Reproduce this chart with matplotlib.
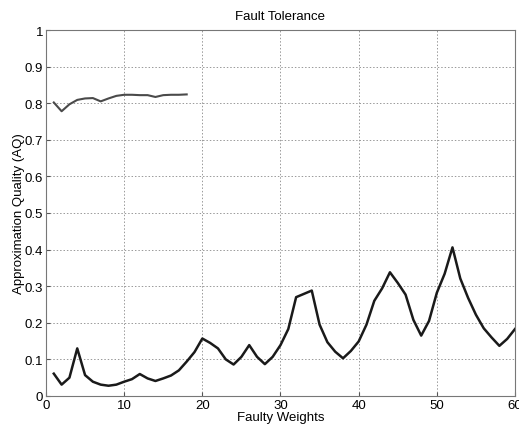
import matplotlib.pyplot as plt

plt.rcParams['font.family'] = ['Liberation Sans', 'DejaVu Sans']

# faulty weights count
faults = list(range(1, 61))
aq_low = [0.061, 0.031, 0.050, 0.130, 0.057, 0.039, 0.031, 0.028, 0.031, 0.039,
          0.046, 0.060, 0.048, 0.041, 0.048, 0.056, 0.070, 0.094, 0.120, 0.157,
          0.145, 0.130, 0.100, 0.086, 0.107, 0.139, 0.107, 0.087, 0.107, 0.139,
          0.183, 0.270, 0.279, 0.288, 0.195, 0.147, 0.121, 0.103, 0.123, 0.149,
          0.195, 0.260, 0.294, 0.338, 0.309, 0.277, 0.208, 0.165, 0.205, 0.282,
          0.334, 0.406, 0.321, 0.268, 0.222, 0.185, 0.160, 0.137, 0.156, 0.183]

faults_hi = list(range(1, 19))
aq_high = [0.802, 0.778, 0.797, 0.809, 0.813, 0.814, 0.805, 0.813, 0.820, 0.823,
           0.823, 0.822, 0.822, 0.817, 0.822, 0.823, 0.823, 0.824]

fig = plt.figure(figsize=(5.19, 4.27), dpi=100)
ax = fig.add_axes([0.0886, 0.0703, 0.9037, 0.8571])

ax.plot(faults_hi, aq_high, color='#4a4a4a', lw=1.5)
ax.plot(faults, aq_low, color='#1a1a1a', lw=1.8)

ax.set_xlim(0, 60)
ax.set_ylim(0, 1)
ax.set_xticks(range(0, 61, 10))
ax.set_yticks([i / 10 for i in range(11)])
ax.set_yticklabels(['0', '0.1', '0.2', '0.3', '0.4', '0.5', '0.6', '0.7', '0.8', '0.9', '1'])
ax.grid(True, linestyle=(0, (1.5, 2)), color='#999999', lw=0.7)
ax.tick_params(direction='in', length=3, labelsize=9.5, pad=2, color='#555555')
for s in ax.spines.values():
    s.set_color('#777777')

ax.set_title('Fault Tolerance', fontsize=9.5, pad=8)
ax.set_xlabel('Faulty Weights', fontsize=9.5, labelpad=0.5)
ax.set_ylabel('Approximation Quality (AQ)', fontsize=9.5, labelpad=0)

fig.savefig('out.png', dpi=100)
